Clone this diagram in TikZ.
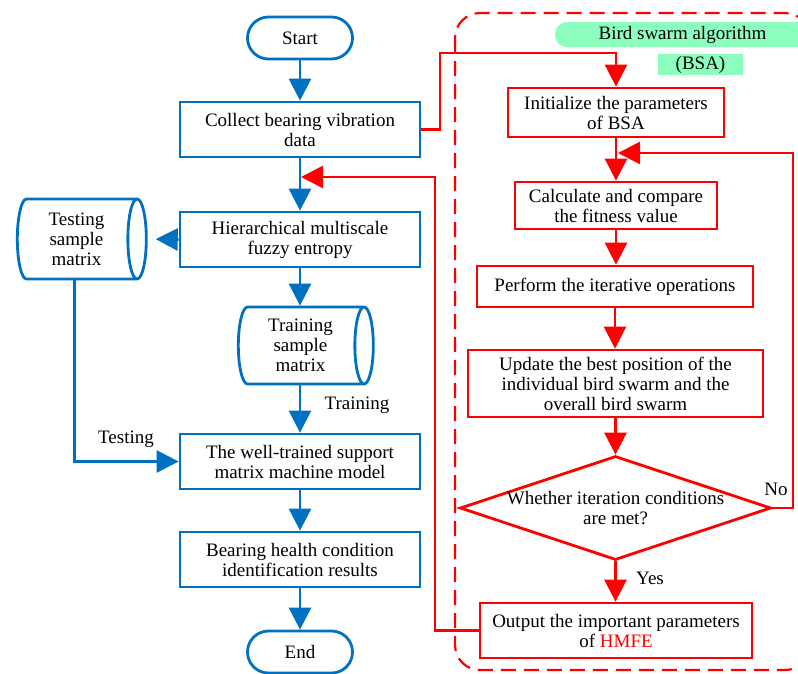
\documentclass[tikz,border=0pt]{standalone}
\usepackage{fontspec}
\setmainfont{Liberation Serif}
\usetikzlibrary{arrows.meta,shapes.geometric}
\definecolor{fblue}{RGB}{0,112,192}
\definecolor{fred}{RGB}{255,0,0}
\definecolor{fgreen}{RGB}{140,255,190}
\begin{document}
\begin{tikzpicture}[x=1pt,y=-1pt,
  every node/.style={font=\fontsize{19}{20}\selectfont, inner sep=0pt, align=center},
  bbox/.style={draw=fblue, line width=2.8pt, minimum width=240pt, minimum height=55pt},
  rbox/.style={draw=fred, line width=2.8pt},
  term/.style={draw=fblue, line width=2.8pt, rounded corners=21pt, minimum width=105pt, minimum height=42pt},
  cyl/.style={draw=fblue, line width=2.8pt, cylinder, shape aspect=0.35},
  barrow/.style={draw=fblue, line width=2.8pt, -{Triangle[length=22pt,width=22pt]}},
  rarrow/.style={draw=fred, line width=2.8pt, -{Triangle[length=22pt,width=22pt]}}]
\useasboundingbox (0,0) rectangle (798,673);

% dashed frame and BSA labels
\draw[fred, line width=2.2pt, dash pattern=on 15pt off 8pt, rounded corners=25pt] (455,13) rectangle (810,670);
\node[fill=fgreen, rounded corners=12pt, minimum width=255pt, minimum height=25pt] (bsalbl) at (682.5,34.5) {Bird swarm algorithm};
\node[fill=fgreen, minimum width=85pt, minimum height=21pt] (bsaabbr) at (700.5,64.5) {(BSA)};

% left column
\node[term] (start) at (300,38) {Start};
\node[bbox] (collect) at (300,129.5) {Collect bearing vibration\\data};
\node[bbox] (hier) at (300,239.5) {Hierarchical multiscale\\fuzzy entropy};
\node[cyl, minimum height=129pt, minimum width=80pt] (testcyl) at (76.5,239) {Testing\\sample\\matrix};
\node[cyl, minimum height=135pt, minimum width=77pt] (train) at (300.5,345.5) {Training\\sample\\matrix};
\node[bbox] (well) at (300,461.5) {The well-trained support\\matrix machine model};
\node[bbox] (bear) at (300,559.5) {Bearing health condition\\identification results};
\node[term] (end) at (300,652) {End};

% right column
\node[rbox, minimum width=216pt, minimum height=49pt] (init) at (616,112.5) {Initialize the parameters\\of BSA};
\node[rbox, minimum width=202pt, minimum height=47pt] (calc) at (616,205.5) {Calculate and compare\\the fitness value};
\node[rbox, minimum width=276pt, minimum height=41pt] (perf) at (615,286.5) {Perform the iterative operations};
\node[rbox, minimum width=295pt, minimum height=67pt] (upd) at (615.5,383.5) {Update the best position of the\\individual bird swarm and the\\overall bird swarm};
\node[rbox, diamond, minimum width=311pt, minimum height=104pt] (dia) at (615.5,508) {};
\node (diatext) at (615.5,508.5) {Whether iteration conditions\\are met?};
\node[rbox, minimum width=272pt, minimum height=55pt] (out) at (616,630.5) {Output the important parameters\\of \textcolor{fred}{HMFE}};

% labels
\node (ltrain) at (357,405) {Training};
\node (ltest) at (126,439) {Testing};
\node (lno) at (776,489) {No};
\node (lyes) at (650,578) {Yes};

% coordinates
\coordinate (c1) at (440,53);
\coordinate (r1) at (435,177);
\coordinate (r2) at (301,177);
\coordinate (n1) at (793,153);
\coordinate (n2) at (618,153);

% blue connectors
\draw[barrow] (start) -- (collect);
\draw[barrow] (collect) -- (hier);
\draw[barrow, shorten >=8pt] (hier.west) -- (testcyl.east);
\draw[barrow] (hier.south) -- (hier.south |- train.north);
\draw[barrow] (well.north |- train.south) -- (well.north);
\draw[barrow] ([xshift=-2pt]testcyl.south) |- (well.west);
\draw[barrow] (well) -- (bear);
\draw[barrow] (bear) -- (end);

% red connectors
\draw[rarrow] (collect.east) -| (c1) -| (init.north);
\draw[rarrow] (init) -- (calc);
\draw[rarrow] (calc.south) -- (calc.south |- perf.north);
\draw[rarrow] (perf.south) -- (perf.south |- upd.north);
\draw[rarrow] (upd.south) -- (dia.north);
\draw[rarrow] (dia.south) -- (dia.south |- out.north);
\draw[rarrow] (dia.east) -| (n1) -- (n2);
\draw[rarrow] (out.west) -| (r1) -- (r2);
\end{tikzpicture}
\end{document}
